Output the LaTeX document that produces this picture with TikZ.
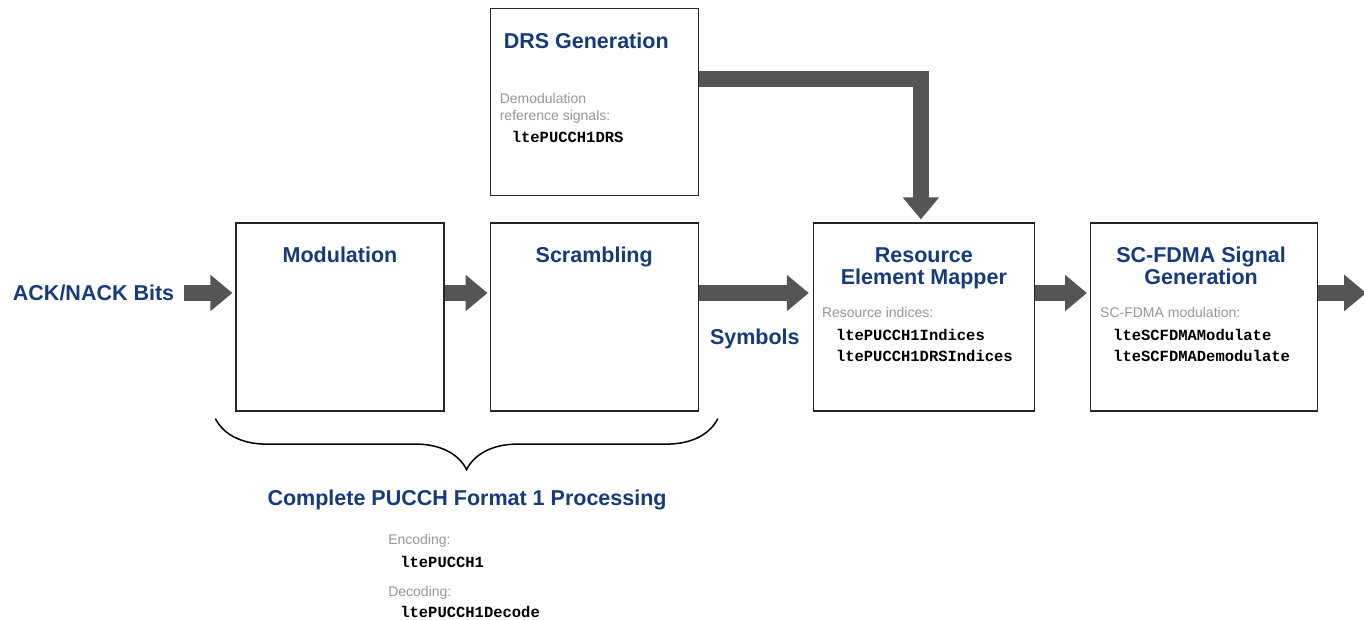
\documentclass[tikz,border=0pt]{standalone}
\usepackage{fontspec}
\setmainfont{Liberation Sans}
\newfontfamily\codefont{Liberation Mono}
\usetikzlibrary{arrows.meta,positioning,calc,decorations.pathreplacing}
\definecolor{navy}{RGB}{22,58,128}
\definecolor{hintgray}{RGB}{150,150,150}
\definecolor{pipe}{RGB}{85,85,85}
\tikzset{
  flow/.style={-{Triangle[length=22pt,width=35pt]},line width=16pt,draw=pipe},
  box/.style={draw=black!85,line width=1.2pt,fill=white,
              minimum height=188pt,inner sep=0pt},
  head/.style={font=\fontsize{21.5}{22}\selectfont\bfseries,text=navy,
               align=center,inner sep=0pt},
  hint/.style={font=\fontsize{14}{17}\selectfont,text=hintgray,
               align=left,inner sep=0pt,anchor=base west},
  code/.style={font=\codefont\fontsize{15.5}{21}\selectfont\bfseries,
               align=left,inner sep=0pt,anchor=base west}
}
\begin{document}
\begin{tikzpicture}[x=1pt,y=1pt]
  \useasboundingbox (0,0) rectangle (1364,619);
  % processing chain
  \node[box,minimum width=208pt] (mod) at (340,302) {};
  \node[box,minimum width=208pt,right=45pt of mod] (scr) {};
  \node[box,minimum width=208pt,minimum height=187pt,above=26pt of scr] (drs) {};
  \node[box,minimum width=221pt,right=114pt of scr] (rem) {};
  \node[box,minimum width=227pt,right=55pt of rem] (sc) {};

  \node[head,anchor=base] (modtitle) at ([yshift=-40pt]mod.north) {Modulation};
  \node[head,anchor=base] (scrtitle) at ([yshift=-40pt]scr.north) {Scrambling};
  \node[head,anchor=base west] (drstitle) at ([xshift=14pt,yshift=-40pt]drs.north west)
    {DRS Generation};
  \node[head,anchor=base] (remtitle) at ([yshift=-62pt]rem.north)
    {Resource\\Element Mapper};
  \node[head,anchor=base] (sctitle) at ([xshift=-3pt,yshift=-62pt]sc.north)
    {SC-FDMA Signal\\Generation};

  \node[hint] (drshint) at ([xshift=10pt,yshift=-112pt]drs.north west)
    {Demodulation\\reference signals:};
  \node[code] (drscode) at ([xshift=22pt,yshift=-134pt]drs.north west) {ltePUCCH1DRS};
  \node[hint] (remhint) at ([xshift=9pt,yshift=-95pt]rem.north west) {Resource indices:};
  \node[code] (remcode) at ([xshift=23pt,yshift=-139pt]rem.north west)
    {ltePUCCH1Indices\\ltePUCCH1DRSIndices};
  \node[hint] (schint) at ([xshift=10pt,yshift=-95pt]sc.north west) {SC-FDMA modulation:};
  \node[code] (sccode) at ([xshift=23pt,yshift=-139pt]sc.north west)
    {lteSCFDMAModulate\\lteSCFDMADemodulate};

  \node[head,anchor=east] (ack) at ([xshift=-61pt,yshift=24pt]mod.west) {ACK/NACK Bits};
  \node[head,anchor=base] (sym) at ([xshift=56pt,yshift=-28pt]scr.east) {Symbols};
  \coordinate (out) at ([xshift=48pt,yshift=24pt]sc.east);

  \draw[flow,shorten <=10pt,shorten >=3pt] (ack.east) -- ([yshift=24pt]mod.west);
  \draw[flow,shorten >=2pt] ([yshift=24pt]mod.east) -- ([yshift=24pt]scr.west);
  \draw[flow,shorten >=4pt] ([yshift=24pt]scr.east) -- ([yshift=24pt]rem.west);
  \draw[flow,shorten >=3pt] ([yshift=24pt]rem.east) -- ([yshift=24pt]sc.west);
  \draw[flow] ([yshift=24pt]sc.east) -- (out);
  \draw[flow,shorten >=3pt] ([yshift=23.5pt]drs.east) -| ([xshift=-3pt]rem.north);

  % brace and PUCCH functions
  \draw[line width=1.5pt,decorate,decoration={brace,mirror,amplitude=51pt}]
    ([xshift=-20pt,yshift=-7pt]mod.south west) -- ([xshift=19pt,yshift=-7pt]scr.south east);
  \node[head,anchor=base] (fmt) at ($([yshift=-94pt]mod.south west)!0.5!([yshift=-94pt]scr.south east)$)
    {Complete PUCCH Format 1 Processing};
  \node[hint] (enchint) at ([xshift=-79pt,yshift=-39pt]fmt.base) {Encoding:};
  \node[code] (enccode) at ([xshift=-67pt,yshift=-62pt]fmt.base) {ltePUCCH1};
  \node[hint] (dechint) at ([xshift=-79pt,yshift=-91pt]fmt.base) {Decoding:};
  \node[code] (deccode) at ([xshift=-67pt,yshift=-112pt]fmt.base) {ltePUCCH1Decode};
\end{tikzpicture}
\end{document}
